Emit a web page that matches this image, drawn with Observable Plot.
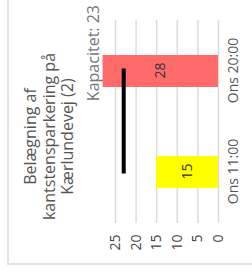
<!DOCTYPE html>
<html>
<head>
<meta charset="utf-8">
<script src="https://cdn.jsdelivr.net/npm/d3@7"></script>
<script src="https://cdn.jsdelivr.net/npm/@observablehq/plot@0.6"></script>
<style>
  html, body { margin: 0; padding: 0; background: #fff; overflow: hidden; width: 252px; height: 273px; }
  #frame {
    position: absolute; left: 0; top: 0; width: 273px; height: 252px;
    transform-origin: 0 0; transform: translateY(273px) rotate(-90deg);
    font-family: "Open Sans", sans-serif; background: #fff;
  }
  #border { position: absolute; left: 8px; top: 7px; right: -4px; bottom: -4px;
    border-left: 2px solid #e2e2e2; border-top: 2px solid #e2e2e2; }
  #title { position: absolute; left: 0; top: 21px; width: 273px; text-align: center;
    font-size: 16px; line-height: 18.5px; color: #555; }
  #cap { position: absolute; right: 5px; top: 82px; font-size: 16px; color: #777; white-space: nowrap; }
  #chart { position: absolute; left: 0; top: 80px; }
</style>
</head>
<body>
<div id="frame">
  <div id="border"></div>
  <div id="title"></div>
  <div id="cap"></div>
  <div id="chart"></div>
</div>
<script>
const titleLines = ["Belægning af", "kantstensparkering på", "Kærlundevej (2)"];
const categories = ["Ons 11:00", "Ons 20:00"];
const values = [15, 28];
const barColors = ["#ffff00", "#ff6b6b"];
const capacity = 23;
const yTicks = [0, 5, 10, 15, 20, 25];

document.getElementById("title").innerHTML = titleLines.join("<br>");
document.getElementById("cap").textContent = `Kapacitet: ${capacity}`;

const data = categories.map((c, i) => ({cat: c, value: values[i]}));
const capLine = categories.map(c => ({cat: c, value: capacity}));

const chart = Plot.plot({
  width: 273,
  height: 172,
  marginLeft: 50,
  marginRight: 20,
  marginTop: 22.6,
  marginBottom: 34,
  style: {fontFamily: "Open Sans", fontSize: "14px", background: "transparent"},
  x: {domain: categories, paddingInner: 0.685, paddingOuter: 0.3425, label: null},
  y: {domain: [0, 28], label: null},
  color: {domain: categories, range: barColors},
  marks: [
    Plot.gridY(yTicks, {stroke: "#dcdcdc", strokeOpacity: 1, strokeWidth: 1.5}),
    Plot.barY(data, {x: "cat", y: "value", fill: "cat"}),
    Plot.line(capLine, {x: "cat", y: "value", stroke: "#000", strokeWidth: 4, strokeLinecap: "square"}),
    Plot.text(data, {x: "cat", y: d => d.value / 2, text: d => String(d.value), fill: "#333", fontSize: 14}),
    Plot.axisY(yTicks, {tickSize: 0, tickPadding: 12, fill: "#444", fontSize: 14, label: null}),
    Plot.axisX({tickSize: 0, tickPadding: 10, fill: "#555", fontSize: 14, label: null})
  ]
});
document.getElementById("chart").appendChild(chart);
</script>
</body>
</html>
